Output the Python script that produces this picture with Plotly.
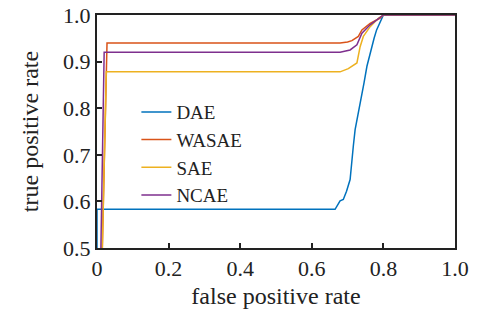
import plotly.graph_objects as go

series_names = ["DAE", "WASAE", "SAE", "NCAE"]
colors = ["#0072BD", "#D95319", "#EDB120", "#7E2F8E"]

dae_fpr = [0.0, 0.0, 0.665, 0.672, 0.679, 0.688, 0.697, 0.707, 0.712, 0.716, 0.721, 0.728, 0.738, 0.746, 0.754, 0.765, 0.774, 0.781, 0.790, 0.800, 1.0]
dae_tpr = [0.0, 0.583, 0.583, 0.592, 0.601, 0.604, 0.622, 0.647, 0.680, 0.719, 0.754, 0.780, 0.818, 0.855, 0.890, 0.925, 0.950, 0.968, 0.985, 1.0, 1.0]

wasae_fpr = [0.0, 0.028, 0.679, 0.700, 0.712, 0.730, 0.740, 0.763, 0.790, 0.800, 1.0]
wasae_tpr = [0.0, 0.940, 0.940, 0.942, 0.945, 0.954, 0.968, 0.982, 0.993, 1.0, 1.0]

sae_fpr = [0.0, 0.026, 0.679, 0.702, 0.726, 0.735, 0.744, 0.763, 0.786, 0.800, 1.0]
sae_tpr = [0.0, 0.878, 0.878, 0.885, 0.897, 0.932, 0.954, 0.975, 0.993, 1.0, 1.0]

ncae_fpr = [0.0, 0.020, 0.679, 0.707, 0.726, 0.740, 0.763, 0.790, 0.800, 1.0]
ncae_tpr = [0.0, 0.920, 0.920, 0.925, 0.936, 0.961, 0.979, 0.993, 1.0, 1.0]

xs = [dae_fpr, wasae_fpr, sae_fpr, ncae_fpr]
ys = [dae_tpr, wasae_tpr, sae_tpr, ncae_tpr]

x_ticks = [0, 0.2, 0.4, 0.6, 0.8, 1.0]
x_tick_labels = ["0", "0.2", "0.4", "0.6", "0.8", "1.0"]
y_ticks = [0.5, 0.6, 0.7, 0.8, 0.9, 1.0]
y_tick_labels = ["0.5", "0.6", "0.7", "0.8", "0.9", "1.0"]

font_family = "Liberation Serif"

fig = go.Figure()
for name, c, x, y in zip(series_names, colors, xs, ys):
    fig.add_trace(go.Scatter(x=x, y=y, mode="lines", name=name,
                             line=dict(color=c, width=1.5)))

fig.update_layout(
    width=478, height=311,
    margin=dict(l=97, r=23, t=15, b=63),
    paper_bgcolor="white", plot_bgcolor="white",
    font=dict(family=font_family, size=20, color="#222"),
    showlegend=True,
    legend=dict(x=0.11, y=0.665, xanchor="left", yanchor="top",
                bgcolor="rgba(0,0,0,0)", font=dict(family=font_family, size=19),
                itemwidth=30, tracegroupgap=0),
)
fig.update_xaxes(range=[0, 1], tickvals=x_ticks, ticktext=x_tick_labels,
                 showline=True, linecolor="#222", linewidth=2, mirror=True,
                 ticks="inside", ticklen=5, tickwidth=1.5, tickcolor="#222",
                 showgrid=False, zeroline=False, automargin=False,
                 tickfont=dict(family=font_family, size=22),
                 title=dict(text="false positive rate", standoff=7,
                            font=dict(family=font_family, size=24)))
fig.update_yaxes(range=[0.5, 1], tickvals=y_ticks, ticktext=y_tick_labels,
                 showline=True, linecolor="#222", linewidth=2, mirror=True,
                 ticks="inside", ticklen=5, tickwidth=1.5, tickcolor="#222",
                 showgrid=False, zeroline=False, automargin=False,
                 tickfont=dict(family=font_family, size=22),
                 title=dict(text="true positive rate", standoff=18,
                            font=dict(family=font_family, size=24)))

fig.write_html("out.html", config={"displayModeBar": False},
               post_script="document.body.style.margin='0';document.body.style.padding='0';")
